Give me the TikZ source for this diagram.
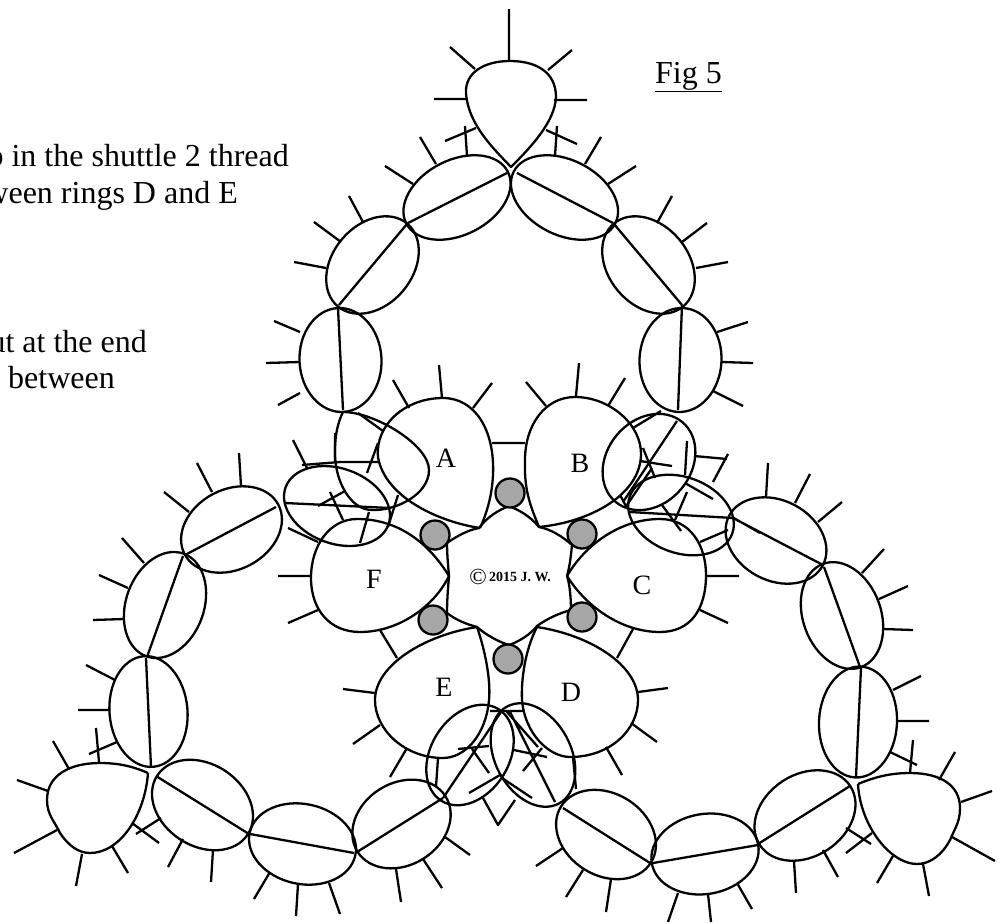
\documentclass[tikz,border=0pt]{standalone}
\usepackage{fontspec}
\setmainfont{Liberation Serif}
\newcommand\ov[5]{\draw[shift={(#1,#2)},rotate=#5] (0,0) ellipse [x radius=#3pt,y radius=#4pt];}
\definecolor{beadgray}{HTML}{A6A6A6}
\tikzset{
  lace/.style={line width=2.3pt,draw=black},
  bead/.style={circle,draw=black,line width=2.3pt,fill=beadgray,minimum size=29pt,inner sep=0pt},
  bigtext/.style={font=\fontsize{32}{36}\selectfont,inner sep=0pt,anchor=base east},
  ringlabel/.style={font=\fontsize{28}{30}\selectfont,inner sep=0pt,anchor=base}
}
\begin{document}
\begin{tikzpicture}[x=1pt,y=-1pt,lace,line join=round]
\useasboundingbox (0,0) rectangle (1007,922);
\clip (0,0) rectangle (1007,922);
% top arm
\draw (511,167) .. controls (495,150) and (468,125) .. (466,93) .. controls (465,72) and (485,61) .. (510,61) .. controls (536,61) and (556,72) .. (556,97) .. controls (555,122) and (530,148) .. (511,167) -- cycle;
\draw (509,9)--(509,61) (450,47)--(475,69) (572,50)--(548,70) (434,99)--(467,99) (587,100)--(554,100) (445,141)--(476,128) (577,144)--(546,130);
\ov{457}{197.5}{57}{37.5}{27} \draw (408,223)--(507,173);
\draw (465,126)--(467,156) (420,137)--(436,164) (385,166)--(413,184);
\ov{564.5}{197.5}{57}{37.5}{-27} \draw (517,173)--(613,223);
\draw (557,126)--(555,156) (601,137)--(585,164) (636,166)--(608,184);
\ov{372.5}{265}{54}{40}{50} \draw (407,224)--(339,305);
\draw (349,196)--(363,222) (314,222)--(341,242) (294,262)--(326,268);
\ov{648.5}{265}{54}{40}{-50} \draw (614,224)--(682,305);
\draw (672,196)--(657,223) (707,223)--(682,242) (728,262)--(696,268);
\ov{340.5}{360}{52}{41}{-87} \draw (338,308)--(343,410);
\draw (266,363)--(300,362) (274,321)--(300,332) (278,405)--(300,393);
\ov{680.5}{360}{52}{41}{87} \draw (682,305)--(678,410);
\draw (722,362)--(753,363) (713,391)--(743,406) (717,332)--(748,322);
% left overlap
\draw (343,412) .. controls (375,412) and (429,445) .. (429,470) .. controls (429,495) and (395,511) .. (372,510) .. controls (350,510) and (334,480) .. (335,450) .. controls (335,435) and (338,422) .. (343,412) -- cycle;
\draw (302,465)--(340,462)--(378,462) (318,506)--(345,491) (335,433)--(335,463) (383,431)--(358,413) (378,443)--(367,473) (293,440)--(307,468);
\ov{337}{506}{54.7}{37.6}{-20} \draw (285,503)--(390,508);
\draw (288,528)--(318,542) (330,492)--(343,520) (369,512)--(360,543) (398,495)--(388,527);
% right overlap
\ov{649}{462}{52}{42}{50} \draw (677,421)--(623,502);
\draw (627,505)--(652,468) (620,495)--(627,508) (633,428)--(661,411);
\ov{681}{515}{54.5}{38}{-20} \draw (630,512)--(733,518);
\draw (643,448)--(655,478) (640,461)--(672,466) (687,441)--(685,475) (685,483)--(713,499) (687,492)--(675,520) (662,505)--(681,531) (694,456)--(727,459) (728,454)--(713,482) (700,542)--(728,530);
% rings
\draw (480,528) .. controls (440,522) and (385,498) .. (378,457) .. controls (375,425) and (405,398) .. (443,398) .. controls (475,398) and (495,430) .. (493,475) .. controls (492,497) and (486,515) .. (480,528);
\draw (439,365)--(442,398) (393,380)--(409,408) (492,383)--(473,408) (492,443)--(525,443);
\draw (539,527) .. controls (530,505) and (524,490) .. (525,460) .. controls (525,425) and (545,397) .. (575,397) .. controls (610,397) and (642,425) .. (641,455) .. controls (640,495) and (590,522) .. (539,527);
\draw (579,363)--(576,396) (526,382)--(546,406) (625,378)--(608,406);
\draw (449,576) .. controls (430,545) and (400,519) .. (357,519) .. controls (330,519) and (311,545) .. (311,578) .. controls (311,610) and (330,632) .. (360,632) .. controls (400,632) and (435,605) .. (449,576);
\draw (278,576)--(311,576) (288,623)--(318,610) (380,630)--(397,658);
\draw (567,576) .. controls (585,545) and (620,519) .. (660,519) .. controls (690,519) and (706,545) .. (706,575) .. controls (706,610) and (690,632) .. (660,632) .. controls (620,632) and (585,605) .. (567,576);
\draw (706,576)--(739,576) (700,610)--(728,623) (633,629)--(617,658);
\draw (537,627) .. controls (525,650) and (521,680) .. (522,700) .. controls (525,735) and (550,757) .. (570,757) .. controls (610,757) and (638,730) .. (638,700) .. controls (638,665) and (590,635) .. (537,627);
\draw (638,692)--(668,688) (631,723)--(657,742) (606,747)--(622,775);
\draw (477,627) .. controls (485,650) and (491,680) .. (489,700) .. controls (486,735) and (465,758) .. (443,758) .. controls (405,758) and (375,730) .. (375,700) .. controls (375,665) and (425,635) .. (477,627);
\draw (343,689)--(375,693) (353,744)--(380,725) (390,777)--(407,748);
% bottom overlap
\ov{470}{755}{54}{39}{58} \ov{533}{755}{55}{38}{-62}
\draw (490,711)--(524,711) (501,712)--(443,798) (510,712)--(555,802) (507,712)--(538,747);
\draw (458,749)--(489,746) (472,749)--(489,773) (469,793)--(500,775) (438,758)--(436,787);
\draw (514,750)--(547,757) (542,748)--(523,771) (502,778)--(532,798);
\draw (483,798)--(498,825)--(515,800) (573,757)--(576,789);
% bottom-left arm
\draw (148,773) .. controls (130,765) and (115,763) .. (100,763) .. controls (70,763) and (47,775) .. (47,800) .. controls (47,815) and (55,822) .. (60,833) .. controls (68,845) and (78,853) .. (90,853) .. controls (120,853) and (145,815) .. (148,773);
\draw (17,780)--(48,791) (53,741)--(69,769) (96,728)--(99,762) (14,853)--(57,830) (76,886)--(82,854) (128,873)--(112,846) (159,843)--(132,823) (136,834)--(161,818);
\ov{202.5}{805}{54}{41}{-33} \draw (156,776)--(249,834);
\draw (168,867)--(183,839) (211,882)--(213,850);
\ov{302.5}{844}{54}{40}{-12} \draw (250,834)--(354,853);
\draw (254,899)--(270,872) (296,916)--(298,884) (340,914)--(329,883);
\ov{401.5}{824}{52}{41}{32} \draw (357,852)--(443,798);
\draw (401,902)--(396,869) (442,888)--(423,859) (445,837)--(470,855);
\ov{148.5}{711.5}{55.5}{39}{-85} \draw (146,658)--(151,767);
\draw (86,665)--(115,680) (78,710)--(110,710) (89,754)--(117,742);
\ov{165}{605}{54.6}{39}{70} \draw (183,556)--(147,657);
\draw (122,538)--(144,563) (99,575)--(128,588) (93,620)--(124,619);
\ov{231.5}{529.5}{53}{40}{28} \draw (185,555)--(276,507);
\draw (239,453)--(241,486) (197,463)--(212,492) (164,492)--(189,512);
% bottom-right arm
\ov{776}{540.5}{53}{40}{-28} \draw (733,518)--(823,565) (732,517)--(760,533);
\draw (768,463)--(766,497) (810,474)--(795,503) (842,502)--(818,522);
\ov{842}{615.5}{55}{39}{-70} \draw (824,567)--(860,667);
\draw (884,549)--(862,573) (908,586)--(879,599) (913,630)--(883,629);
\ov{858}{722}{55.5}{39}{87} \draw (861,668)--(856,777);
\draw (921,676)--(893,690) (929,721)--(897,721) (917,765)--(890,752);
\draw (858,784) .. controls (875,777) and (890,773) .. (910,773) .. controls (940,773) and (960,785) .. (960,808) .. controls (960,822) and (955,828) .. (950,840) .. controls (942,855) and (930,864) .. (917,864) .. controls (890,864) and (860,825) .. (858,784);
\draw (913,740)--(910,773) (955,752)--(939,780) (992,791)--(961,802) (995,861)--(952,837) (929,896)--(923,864) (877,883)--(893,856) (846,853)--(872,833) (871,844)--(846,828);
\ov{805}{815.5}{54}{41}{33} \draw (850,786)--(758,844);
\draw (796,893)--(794,861) (838,877)--(823,850);
\ov{705}{854}{54}{40}{10} \draw (758,845)--(653,863);
\draw (668,922)--(678,893) (711,922)--(708,894) (752,909)--(737,883);
\ov{606}{834.5}{53}{41}{-32} \draw (563,808)--(650,863);
\draw (566,897)--(583,870) (606,912)--(611,879) (536,866)--(563,848);
% centre
\draw (479,528) .. controls (488,516) and (499,510) .. (509,506) .. controls (519,510) and (530,516) .. (539,527) .. controls (550,529) and (562,536) .. (572,545) .. controls (571,555) and (570,565) .. (567,576) .. controls (570,585) and (571,600) .. (571,610) .. controls (560,613) and (548,618) .. (537,626) .. controls (530,635) and (518,642) .. (509,645) .. controls (499,642) and (486,635) .. (477,627) .. controls (466,624) and (456,620) .. (447,613) .. controls (447,600) and (448,588) .. (449,576) .. controls (448,565) and (447,553) .. (447,543) .. controls (457,536) and (468,530) .. (479,528) -- cycle;
\node[bead] (b1) at (510,493) {};
\node[bead] (b2) at (435,535) {};
\node[bead] (b3) at (582,534) {};
\node[bead] (b4) at (433,620) {};
\node[bead] (b5) at (582,617) {};
\node[bead] (b6) at (508,659) {};
% labels
\node[ringlabel] (la) at (446,467) {A};
\node[ringlabel] (lb) at (580,472) {B};
\node[ringlabel] (lc) at (642,594) {C};
\node[ringlabel] (ld) at (571,701) {D};
\node[ringlabel] (le) at (444,696) {E};
\node[ringlabel] (lf) at (374,588) {F};
\node[font=\fontsize{23}{24}\selectfont,inner sep=0pt,anchor=base] (cr) at (478,584) {©};
\node[font=\fontsize{14}{16}\selectfont\bfseries,inner sep=0pt,anchor=base west] (yr) at (488,581) {2015 J. W.};
\node[bigtext] (fig) at (723,83) {\underline{Fig 5}};
\node[bigtext] (t1) at (290,166) {p in the shuttle 2 thread};
\node[bigtext] (t2) at (239,203) {ween rings D and E};
\node[bigtext] (t3) at (148,352) {ut at the end};
\node[bigtext] (t4) at (116,388) {s between};
\end{tikzpicture}
\end{document}
